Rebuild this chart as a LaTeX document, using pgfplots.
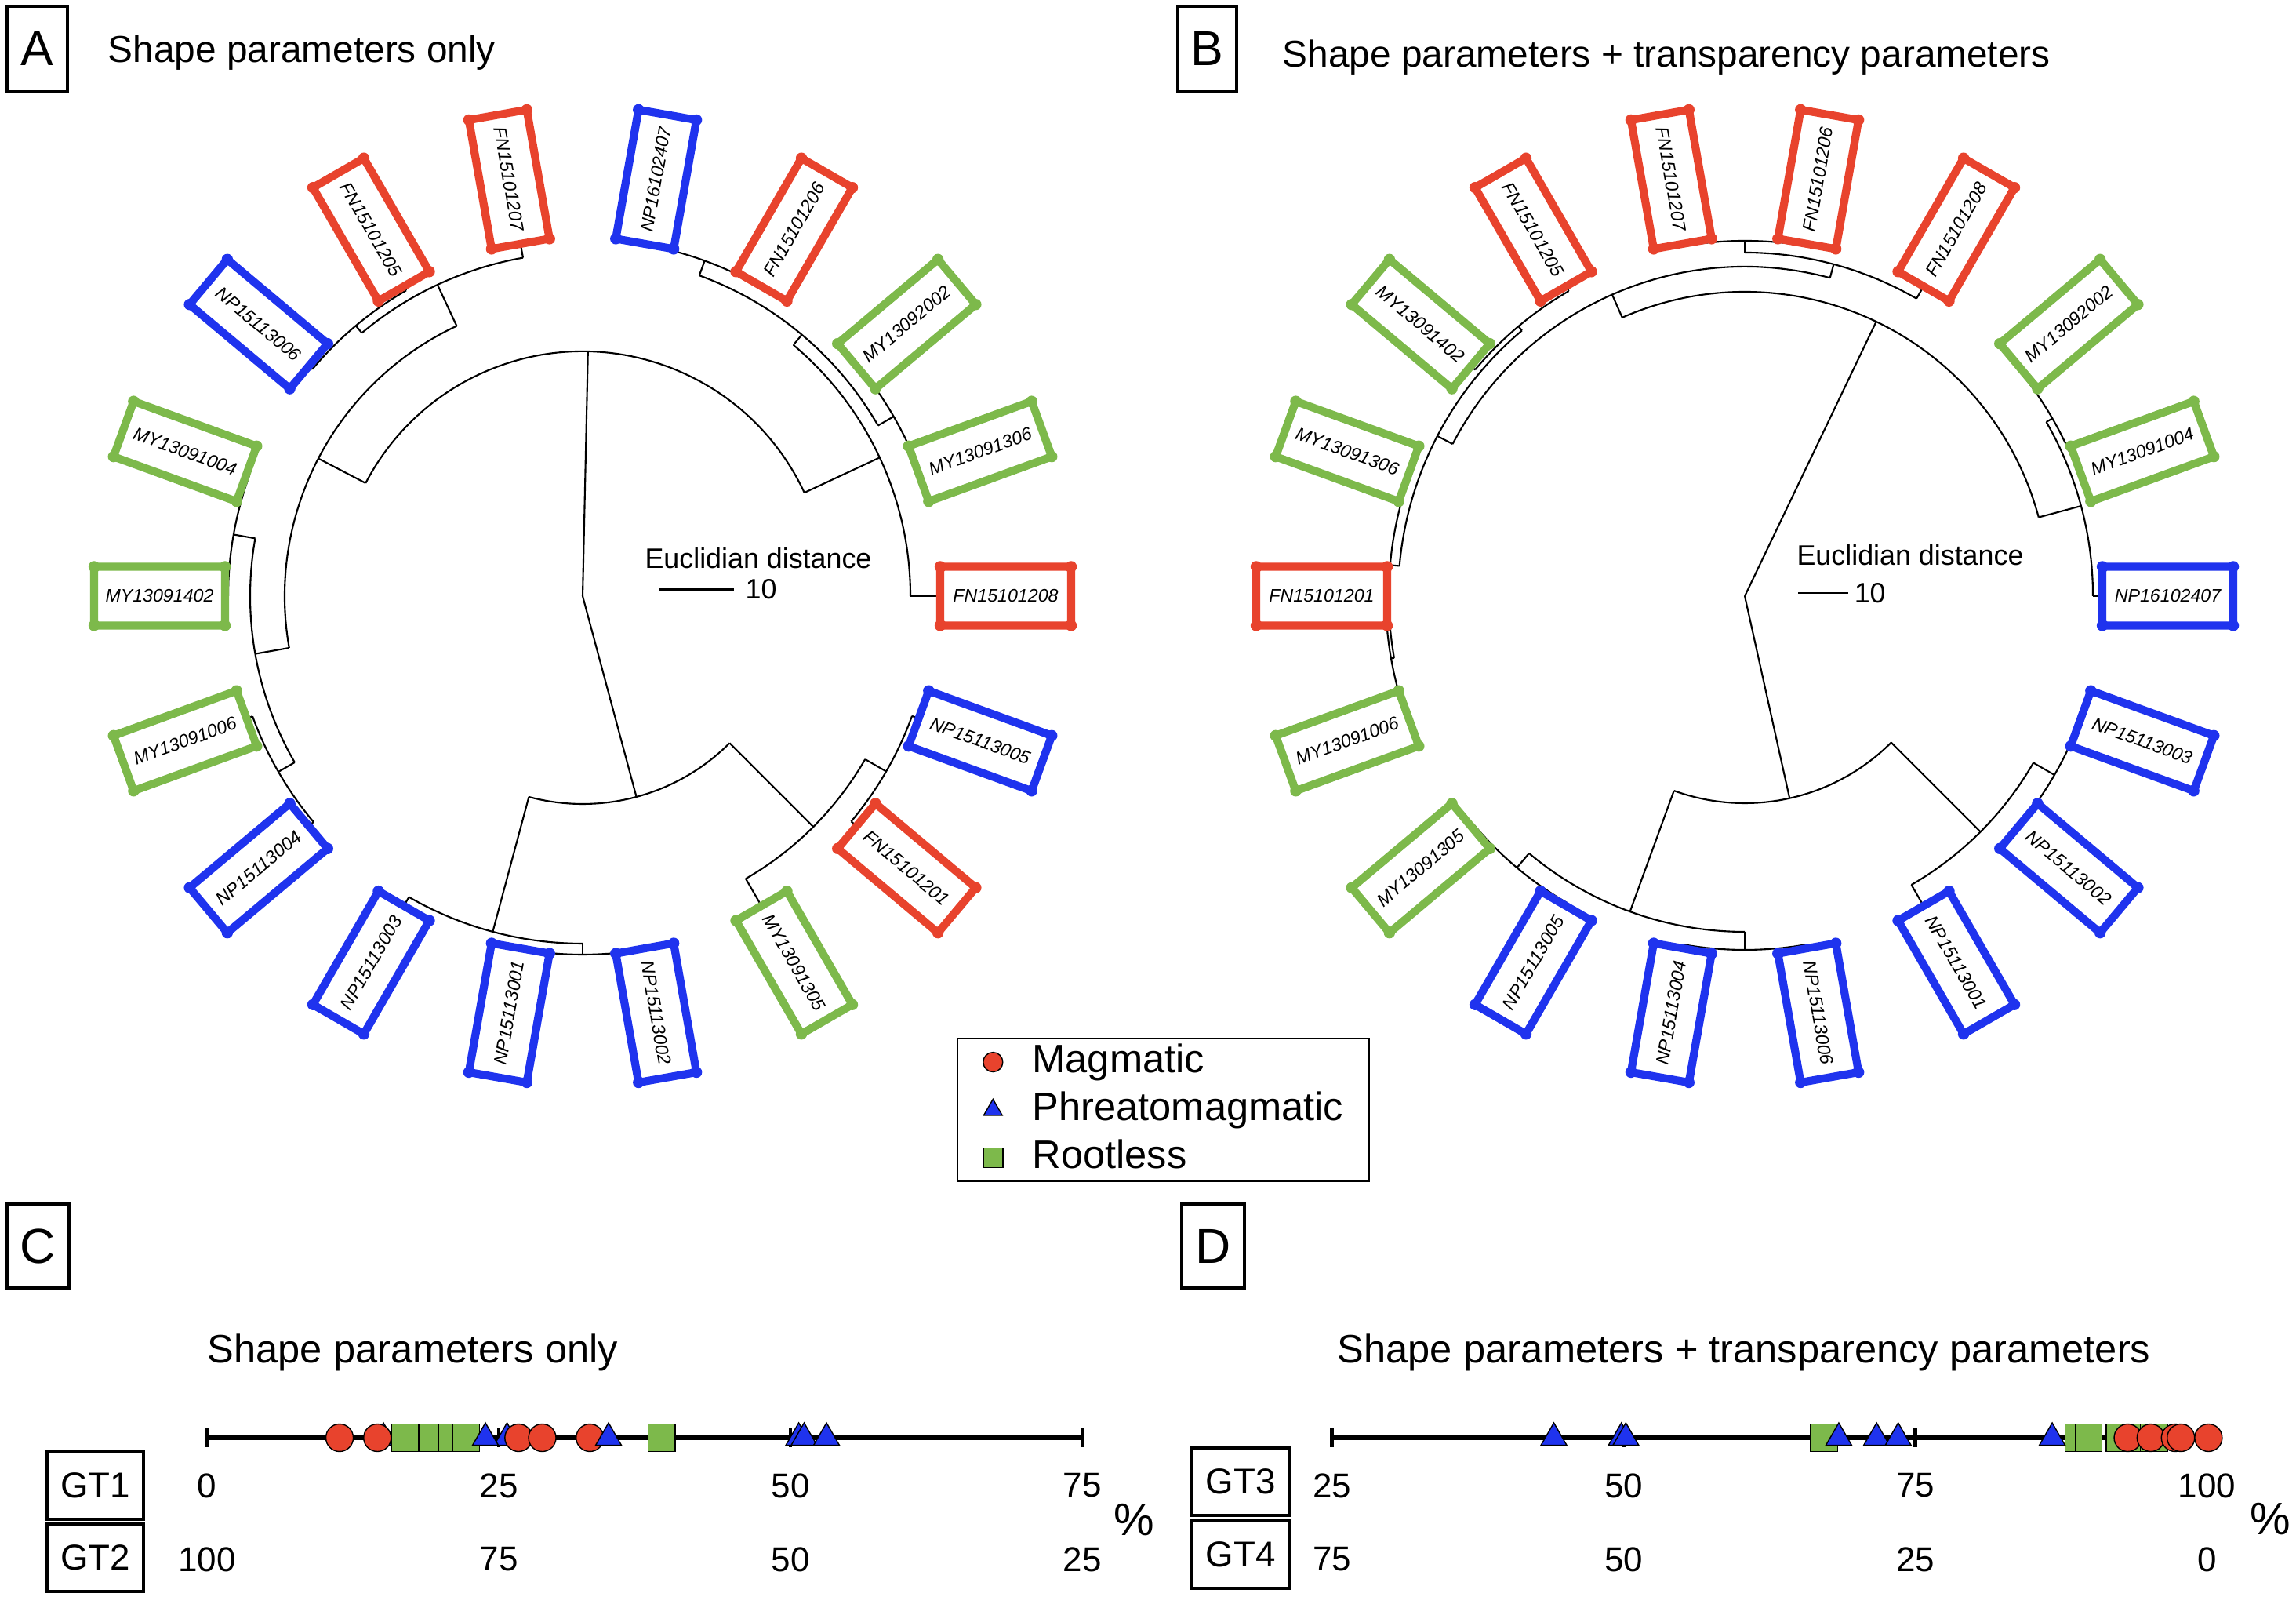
\documentclass[border=0pt]{standalone}
\usepackage{fontspec}
\setmainfont{Liberation Sans}
\usepackage{pgfplots}
\pgfplotsset{compat=1.18}
\definecolor{mred}{HTML}{E8432D}
\definecolor{mblue}{HTML}{1F33EE}
\definecolor{mgreen}{HTML}{7DB94B}
\newcommand{\labelfont}{\fontsize{6.6}{8}\selectfont\itshape}
\tikzset{
  br/.style={black, line width=0.6pt},
  lbox/.style={draw, fill=white, line width=2.9pt, rounded corners=1.5pt,
    minimum width=1.67cm, minimum height=0.75cm, inner sep=0pt, outer sep=0pt, font=\labelfont},
}
\newcommand{\rad}[3]{\addplot[br, data cs=polar] coordinates {(#1,#2) (#1,#3)};}
\newcommand{\arcn}[3]{\draw[br] (axis cs:0,0) ++(#1:#3cm) arc[start angle=#1, end angle=#2, radius=#3cm];}
\newcommand{\leaf}[4]{%
  \path (axis cs:0,0) ++(#1:5.395cm) node[lbox, draw=#3, rotate=#2] (L) {#4};
  \fill[#3] (L.north east) circle[radius=0.072cm] (L.north west) circle[radius=0.072cm]
            (L.south east) circle[radius=0.072cm] (L.south west) circle[radius=0.072cm];}
\newcommand{\tickfont}{\fontsize{12.5}{15}\selectfont}
\begin{document}
\begin{tikzpicture}[x=1cm,y=1cm]
\useasboundingbox (0,0) rectangle (29.28,20.35);
\fill[white] (0,0) rectangle (29.28,20.35);

% ---------------- Panel A dendrogram ----------------
\begin{axis}[at={(0.43cm,5.75cm)}, anchor=south west, x=1cm, y=1cm,
  xmin=-7, xmax=7, ymin=-7, ymax=7, hide axis, clip=false]
\rad{88.75}{0}{3.12}
\rad{285}{0}{2.65}
\arcn{25}{152.5}{3.12}
\rad{25}{3.12}{4.18}
\arcn{0}{50}{4.18}
\rad{0}{4.18}{4.60}
\rad{50}{4.18}{4.35}
\arcn{30}{70}{4.35}
\rad{30}{4.35}{4.58}
\arcn{20}{40}{4.58}
\rad{20}{4.58}{4.60}\rad{40}{4.58}{4.60}
\rad{70}{4.35}{4.55}
\arcn{60}{80}{4.55}
\rad{60}{4.55}{4.60}\rad{80}{4.55}{4.60}
\rad{152.5}{3.12}{3.80}
\arcn{115}{190}{3.80}
\rad{115}{3.80}{4.38}
\arcn{100}{130}{4.38}
\rad{100}{4.38}{4.60}
\rad{130}{4.38}{4.50}
\arcn{120}{140}{4.50}
\rad{120}{4.50}{4.60}\rad{140}{4.50}{4.60}
\rad{190}{3.80}{4.24}
\arcn{170}{210}{4.24}
\rad{170}{4.24}{4.52}
\arcn{160}{180}{4.52}
\rad{160}{4.52}{4.60}\rad{180}{4.52}{4.60}
\rad{210}{4.24}{4.48}
\arcn{200}{220}{4.48}
\rad{200}{4.48}{4.60}\rad{220}{4.48}{4.60}
\arcn{255}{315}{2.65}
\rad{255}{2.65}{4.43}
\arcn{240}{270}{4.43}
\rad{240}{4.43}{4.60}
\rad{270}{4.43}{4.57}
\arcn{260}{280}{4.57}
\rad{260}{4.57}{4.60}\rad{280}{4.57}{4.60}
\rad{315}{2.65}{4.16}
\arcn{300}{330}{4.16}
\rad{300}{4.16}{4.60}
\rad{330}{4.16}{4.47}
\arcn{320}{340}{4.47}
\rad{320}{4.47}{4.60}\rad{340}{4.47}{4.60}
\leaf{0}{0}{mred}{FN15101208}
\leaf{20}{20}{mgreen}{MY13091306}
\leaf{40}{40}{mgreen}{MY13092002}
\leaf{60}{60}{mred}{FN15101206}
\leaf{80}{80}{mblue}{NP16102407}
\leaf{100}{-80}{mred}{FN15101207}
\leaf{120}{-60}{mred}{FN15101205}
\leaf{140}{-40}{mblue}{NP15113006}
\leaf{160}{-20}{mgreen}{MY13091004}
\leaf{180}{0}{mgreen}{MY13091402}
\leaf{200}{20}{mgreen}{MY13091006}
\leaf{220}{40}{mblue}{NP15113004}
\leaf{240}{60}{mblue}{NP15113003}
\leaf{260}{80}{mblue}{NP15113001}
\leaf{280}{-80}{mblue}{NP15113002}
\leaf{300}{-60}{mgreen}{MY13091305}
\leaf{320}{-40}{mred}{FN15101201}
\leaf{340}{-20}{mblue}{NP15113005}
\node[font=\fontsize{10.2}{12}\selectfont] at (axis cs:2.24,0.48) {Euclidian distance};
\addplot[br] coordinates {(0.98,0.085) (1.93,0.085)};
\node[anchor=west, inner sep=0pt, font=\fontsize{10.2}{12}\selectfont] at (axis cs:2.07,0.085) {10};
\end{axis}

% ---------------- Panel B dendrogram ----------------
\begin{axis}[at={(15.25cm,5.75cm)}, anchor=south west, x=1cm, y=1cm,
  xmin=-7, xmax=7, ymin=-7, ymax=7, hide axis, clip=false]
\rad{64.4}{0}{3.88}
\rad{282.5}{0}{2.64}
\arcn{15}{113.75}{3.88}
\rad{15}{3.88}{4.44}
\arcn{0}{30}{4.44}
\rad{0}{4.44}{4.60}
\rad{30}{4.44}{4.53}
\arcn{20}{40}{4.53}
\rad{20}{4.53}{4.60}\rad{40}{4.53}{4.60}
\rad{113.75}{3.88}{4.20}
\arcn{75}{152.5}{4.20}
\rad{75}{4.20}{4.38}
\arcn{60}{90}{4.38}
\rad{60}{4.38}{4.60}
\rad{90}{4.38}{4.53}
\arcn{80}{100}{4.53}
\rad{80}{4.53}{4.60}\rad{100}{4.53}{4.60}
\rad{152.5}{4.20}{4.42}
\arcn{130}{175}{4.42}
\rad{130}{4.42}{4.49}
\arcn{120}{140}{4.49}
\rad{120}{4.49}{4.60}\rad{140}{4.49}{4.60}
\rad{175}{4.42}{4.54}
\arcn{160}{190}{4.54}
\rad{160}{4.54}{4.60}
\rad{190}{4.54}{4.58}
\arcn{180}{200}{4.58}
\rad{180}{4.58}{4.60}\rad{200}{4.58}{4.60}
\arcn{250}{315}{2.64}
\rad{250}{2.64}{4.28}
\arcn{230}{270}{4.28}
\rad{230}{4.28}{4.52}
\arcn{220}{240}{4.52}
\rad{220}{4.52}{4.60}\rad{240}{4.52}{4.60}
\rad{270}{4.28}{4.51}
\arcn{260}{280}{4.51}
\rad{260}{4.51}{4.60}\rad{280}{4.51}{4.60}
\rad{315}{2.64}{4.25}
\arcn{300}{330}{4.25}
\rad{300}{4.25}{4.60}
\rad{330}{4.25}{4.56}
\arcn{320}{340}{4.56}
\rad{320}{4.56}{4.60}\rad{340}{4.56}{4.60}
\leaf{0}{0}{mblue}{NP16102407}
\leaf{20}{20}{mgreen}{MY13091004}
\leaf{40}{40}{mgreen}{MY13092002}
\leaf{60}{60}{mred}{FN15101208}
\leaf{80}{80}{mred}{FN15101206}
\leaf{100}{-80}{mred}{FN15101207}
\leaf{120}{-60}{mred}{FN15101205}
\leaf{140}{-40}{mgreen}{MY13091402}
\leaf{160}{-20}{mgreen}{MY13091306}
\leaf{180}{0}{mred}{FN15101201}
\leaf{200}{20}{mgreen}{MY13091006}
\leaf{220}{40}{mgreen}{MY13091305}
\leaf{240}{60}{mblue}{NP15113005}
\leaf{260}{80}{mblue}{NP15113004}
\leaf{280}{-80}{mblue}{NP15113006}
\leaf{300}{-60}{mblue}{NP15113001}
\leaf{320}{-40}{mblue}{NP15113002}
\leaf{340}{-20}{mblue}{NP15113003}
\node[font=\fontsize{10.2}{12}\selectfont] at (axis cs:2.11,0.52) {Euclidian distance};
\addplot[br] coordinates {(0.68,0.04) (1.32,0.04)};
\node[anchor=west, inner sep=0pt, font=\fontsize{10.2}{12}\selectfont] at (axis cs:1.39,0.04) {10};
\end{axis}

% ---------------- Legend ----------------
\begin{axis}[at={(12.20cm,5.28cm)}, anchor=south west, scale only axis,
  width=5.28cm, height=1.84cm, xmin=0, xmax=1, ymin=0, ymax=1, hide axis,
  legend cell align=left,
  legend image code/.code={\path (0cm,0cm) (0.836cm,0cm); \draw plot coordinates {(0.34cm,0cm)};},
  legend style={at={(0,1)}, anchor=north west, draw=black, line width=0.6pt, fill=white,
    row sep=0.15cm,
    font=\fontsize{14.4}{17}\selectfont,
    nodes={inner sep=0pt, text height=0.36cm, text depth=0.10cm}}]
\addlegendimage{only marks, mark=*, mark size=3.55pt, draw=black, fill=mred, line width=0.4pt}
\addlegendentry{\makebox[4.19cm][l]{Magmatic}}
\addlegendimage{only marks, mark=triangle*, mark size=3.9pt, draw=black, fill=mblue, line width=0.4pt}
\addlegendentry{\makebox[4.19cm][l]{Phreatomagmatic}}
\addlegendimage{only marks, mark=square*, mark size=3.55pt, draw=black, fill=mgreen, line width=0.4pt}
\addlegendentry{\makebox[4.19cm][l]{Rootless}}
\end{axis}

% ---------------- Panel C strip ----------------
\begin{axis}[at={(2.1936cm,0.02cm)}, anchor=south west, x=0.1488cm, y=1cm,
  xmin=-3, xmax=78, ymin=-2, ymax=0.6, hide axis, clip=false]
\addplot[line width=1.7pt] coordinates {(0,0) (75,0)};
\addplot[only marks, mark=|, mark size=3.3pt, mark options={line width=1.2pt}] coordinates {(0,0) (25,0) (50,0) (75,0)};
\addplot[only marks, mark=triangle*, mark size=5.4pt, draw=black, fill=mblue, line width=0.4pt] coordinates {(15.12,0) (25.71,0)};
\addplot[only marks, mark=square*, mark size=4.9pt, draw=black, fill=mgreen, line width=0.4pt] coordinates {(16.98,0) (19.29,0) (19.29,0) (20.99,0) (22.19,0) (38.95,0)};
\addplot[only marks, mark=*, mark size=4.98pt, draw=black, fill=mred, line width=0.4pt] coordinates {(11.36,0) (14.60,0) (26.70,0) (28.73,0) (32.81,0)};
\addplot[only marks, mark=triangle*, mark size=5.4pt, draw=black, fill=mblue, line width=0.4pt] coordinates {(23.86,0) (34.41,0) (50.71,0) (51.17,0) (53.09,0)};
\node[font=\tickfont] at (axis cs:0,-0.61) {0};
\node[font=\tickfont] at (axis cs:25,-0.61) {25};
\node[font=\tickfont] at (axis cs:50,-0.61) {50};
\node[font=\tickfont] at (axis cs:75,-0.61) {75};
\node[font=\tickfont] at (axis cs:0,-1.55) {100};
\node[font=\tickfont] at (axis cs:25,-1.55) {75};
\node[font=\tickfont] at (axis cs:50,-1.55) {50};
\node[font=\tickfont] at (axis cs:75,-1.55) {25};
\end{axis}

% ---------------- Panel D strip ----------------
\begin{axis}[at={(16.5386cm,0.02cm)}, anchor=south west, x=0.1488cm, y=1cm,
  xmin=22, xmax=103, ymin=-2, ymax=0.6, hide axis, clip=false]
\addplot[line width=1.7pt] coordinates {(25,0) (100,0)};
\addplot[only marks, mark=|, mark size=3.3pt, mark options={line width=1.2pt}] coordinates {(25,0) (50,0) (75,0) (100,0)};
\addplot[only marks, mark=square*, mark size=4.9pt, draw=black, fill=mgreen, line width=0.4pt] coordinates {(67.17,0) (88.97,0) (89.85,0) (92.52,0) (93.9,0) (95.45,0)};
\addplot[only marks, mark=*, mark size=4.98pt, draw=black, fill=mred, line width=0.4pt] coordinates {(93.21,0) (95.18,0) (97.26,0) (97.76,0) (100.12,0)};
\addplot[only marks, mark=triangle*, mark size=5.4pt, draw=black, fill=mblue, line width=0.4pt] coordinates {(44.02,0) (49.81,0) (50.19,0) (68.44,0) (71.68,0) (73.53,0) (86.73,0)};
\node[font=\tickfont] at (axis cs:25,-0.61) {25};
\node[font=\tickfont] at (axis cs:50,-0.61) {50};
\node[font=\tickfont] at (axis cs:75,-0.61) {75};
\node[font=\tickfont] at (axis cs:100,-0.61) {100};
\node[font=\tickfont] at (axis cs:25,-1.55) {75};
\node[font=\tickfont] at (axis cs:50,-1.55) {50};
\node[font=\tickfont] at (axis cs:75,-1.55) {25};
\node[font=\tickfont] at (axis cs:100,-1.55) {0};
\end{axis}

% ---------------- Panel letters, titles, GT boxes ----------------
\begin{scope}[line width=1pt]
\draw (0.09,19.18) rectangle (0.86,20.27);
\node[font=\fontsize{17.8}{20}\selectfont] at (0.475,19.725) {A};
\draw (15.02,19.18) rectangle (15.77,20.27);
\node[font=\fontsize{17.8}{20}\selectfont] at (15.395,19.725) {B};
\draw (0.09,3.93) rectangle (0.88,5.00);
\node[font=\fontsize{17.8}{20}\selectfont] at (0.485,4.465) {C};
\draw (15.07,3.93) rectangle (15.87,5.00);
\node[font=\fontsize{17.8}{20}\selectfont] at (15.47,4.465) {D};
\end{scope}
\node[anchor=base west, inner sep=0pt, font=\fontsize{13.6}{16}\selectfont] at (1.37,19.55) {Shape parameters only};
\node[anchor=base west, inner sep=0pt, font=\fontsize{13.6}{16}\selectfont] at (16.35,19.49) {Shape parameters + transparency parameters};
\node[anchor=base west, inner sep=0pt, font=\fontsize{14.4}{17}\selectfont] at (2.64,2.98) {Shape parameters only};
\node[anchor=base west, inner sep=0pt, font=\fontsize{14.4}{17}\selectfont] at (17.05,2.98) {Shape parameters + transparency parameters};
\begin{scope}[line width=0.9pt]
\draw (0.60,0.98) rectangle (1.83,1.85);
\node[font=\fontsize{13}{15}\selectfont] at (1.215,1.415) {GT1};
\draw (0.60,0.06) rectangle (1.83,0.92);
\node[font=\fontsize{13}{15}\selectfont] at (1.215,0.49) {GT2};
\draw (15.19,1.03) rectangle (16.45,1.89);
\node[font=\fontsize{13}{15}\selectfont] at (15.82,1.46) {GT3};
\draw (15.19,0.10) rectangle (16.45,0.96);
\node[font=\fontsize{13}{15}\selectfont] at (15.82,0.53) {GT4};
\end{scope}
\node[font=\fontsize{16.5}{19}\selectfont] at (14.46,0.97) {\%};
\node[font=\fontsize{16.5}{19}\selectfont] at (28.95,0.98) {\%};
\end{tikzpicture}
\end{document}
